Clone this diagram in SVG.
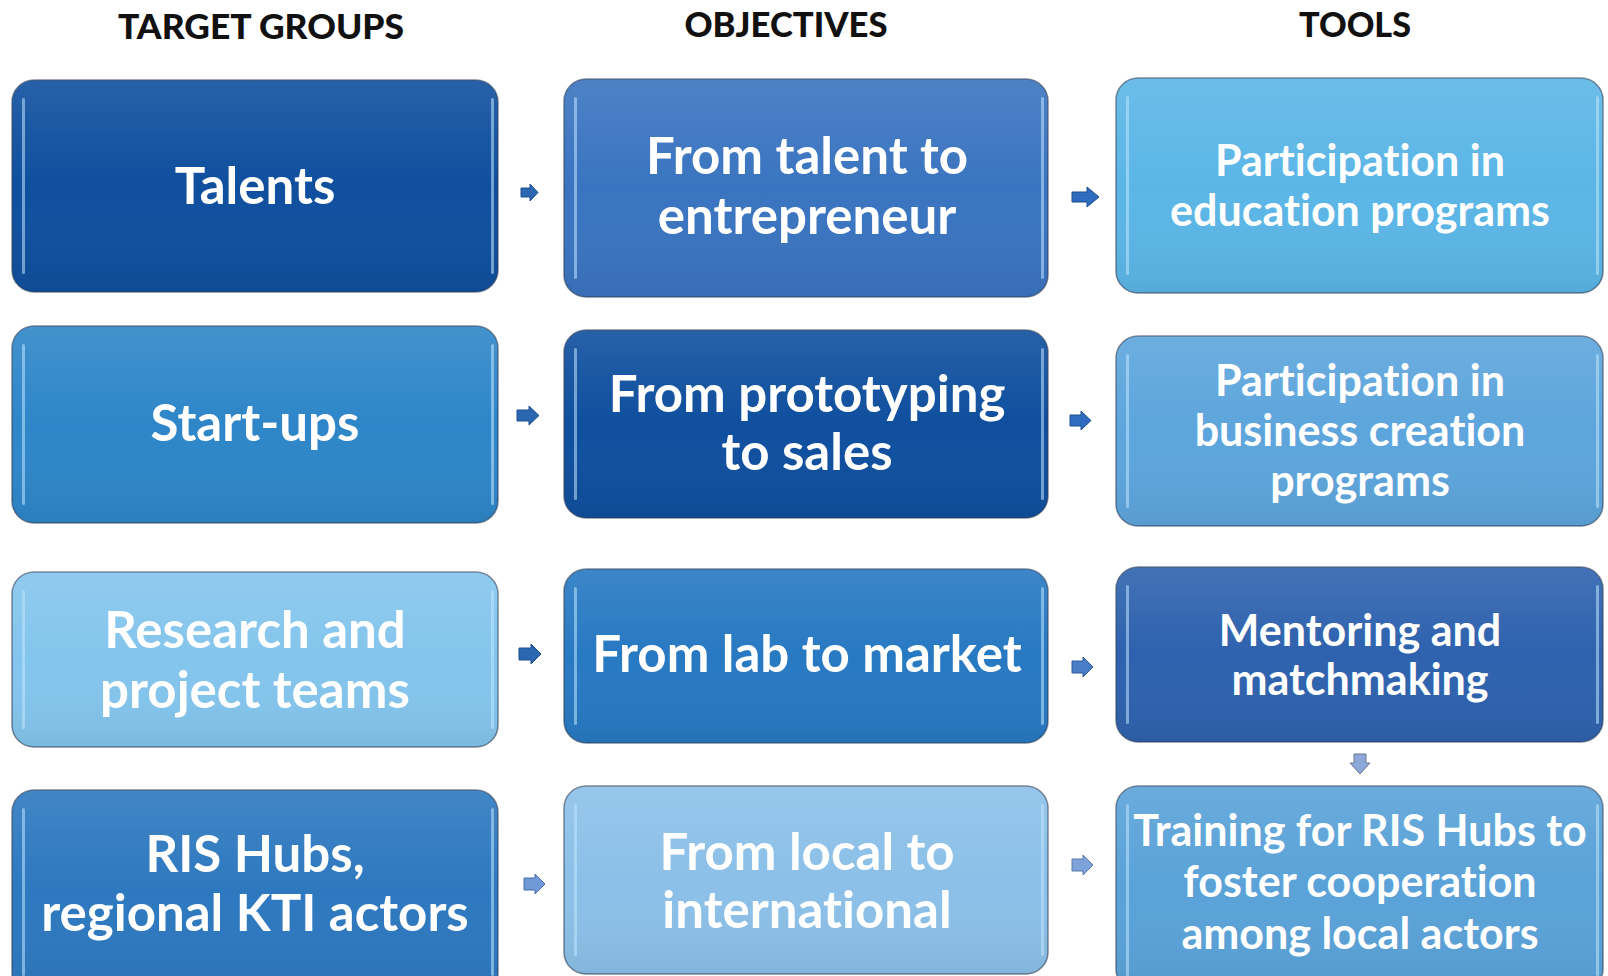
<svg xmlns="http://www.w3.org/2000/svg" width="1608" height="976" viewBox="0 0 1608 976">
<defs>
<linearGradient id="sheen" x1="0" y1="0" x2="0" y2="1">
<stop offset="0" stop-color="#ffffff" stop-opacity="0.10"/>
<stop offset="0.5" stop-color="#ffffff" stop-opacity="0"/>
<stop offset="1" stop-color="#000000" stop-opacity="0.06"/>
</linearGradient>
<style>
.box{stroke:#2f3f58;stroke-opacity:0.6;stroke-width:1.5}
.hl{fill:#bfe6ff;fill-opacity:0.55}
.t{font-family:Lato,"Open Sans","Liberation Sans",sans-serif;font-weight:bold;fill:#ffffff;text-anchor:middle;font-variant-ligatures:none;font-feature-settings:"liga" 0,"clig" 0,"dlig" 0;letter-spacing:0.01px}
.h{font-family:Lato,"Open Sans","Liberation Sans",sans-serif;font-weight:900;fill:#111111;text-anchor:middle;font-size:34px}
.ar{stroke-width:1}
</style>
</defs>
<rect width="1608" height="976" fill="#ffffff"/>

<g id="headers">
<text class="h" x="261" y="39" textLength="286" lengthAdjust="spacingAndGlyphs">TARGET GROUPS</text>
<text class="h" x="786" y="37" textLength="203" lengthAdjust="spacingAndGlyphs">OBJECTIVES</text>
<text class="h" x="1355" y="37" textLength="112" lengthAdjust="spacingAndGlyphs">TOOLS</text>
</g>

<g id="talents">
<rect class="box" x="12" y="80" width="486" height="212" rx="22" fill="#0f4f9e"/>
<rect x="12" y="80" width="486" height="212" rx="22" fill="url(#sheen)"/>
<rect class="hl" x="22" y="98" width="3" height="176" rx="1.5"/>
<rect class="hl" x="491" y="98" width="3" height="176" rx="1.5"/>
<text class="t" x="255" y="204" font-size="51">Talents</text>
</g>

<g id="obj-talent">
<rect class="box" x="564" y="79" width="484" height="218" rx="22" fill="#3a74c0"/>
<rect x="564" y="79" width="484" height="218" rx="22" fill="url(#sheen)"/>
<rect class="hl" x="574" y="97" width="3" height="182" rx="1.5"/>
<rect class="hl" x="1041" y="97" width="3" height="182" rx="1.5"/>
<text class="t" x="807" y="174" font-size="51">From talent to</text>
<text class="t" x="807" y="234" font-size="51">entrepreneur</text>
</g>

<g id="tool-education">
<rect class="box" x="1116" y="78" width="487" height="215" rx="22" fill="#5bb6e6"/>
<rect x="1116" y="78" width="487" height="215" rx="22" fill="url(#sheen)"/>
<rect class="hl" x="1126" y="96" width="3" height="179" rx="1.5"/>
<rect class="hl" x="1596" y="96" width="3" height="179" rx="1.5"/>
<text class="t" x="1360" y="176" font-size="43">Participation in</text>
<text class="t" x="1360" y="226" font-size="43">education programs</text>
</g>

<g id="startups">
<rect class="box" x="12" y="326" width="486" height="197" rx="22" fill="#2e86c8"/>
<rect x="12" y="326" width="486" height="197" rx="22" fill="url(#sheen)"/>
<rect class="hl" x="22" y="344" width="3" height="161" rx="1.5"/>
<rect class="hl" x="491" y="344" width="3" height="161" rx="1.5"/>
<text class="t" x="255" y="441" font-size="51">Start-ups</text>
</g>

<g id="obj-prototyping">
<rect class="box" x="564" y="330" width="484" height="188" rx="22" fill="#0f4f9e"/>
<rect x="564" y="330" width="484" height="188" rx="22" fill="url(#sheen)"/>
<rect class="hl" x="574" y="348" width="3" height="152" rx="1.5"/>
<rect class="hl" x="1041" y="348" width="3" height="152" rx="1.5"/>
<text class="t" x="807" y="412" font-size="51">From prototyping</text>
<text class="t" x="807" y="470" font-size="51">to sales</text>
</g>

<g id="tool-business">
<rect class="box" x="1116" y="336" width="487" height="190" rx="22" fill="#5da5dc"/>
<rect x="1116" y="336" width="487" height="190" rx="22" fill="url(#sheen)"/>
<rect class="hl" x="1126" y="354" width="3" height="154" rx="1.5"/>
<rect class="hl" x="1596" y="354" width="3" height="154" rx="1.5"/>
<text class="t" x="1360" y="396" font-size="43">Participation in</text>
<text class="t" x="1360" y="446" font-size="43">business creation</text>
<text class="t" x="1360" y="496" font-size="43">programs</text>
</g>

<g id="research">
<rect class="box" x="12" y="572" width="486" height="175" rx="22" fill="#84c5ed"/>
<rect x="12" y="572" width="486" height="175" rx="22" fill="url(#sheen)"/>
<rect class="hl" x="22" y="590" width="3" height="139" rx="1.5"/>
<rect class="hl" x="491" y="590" width="3" height="139" rx="1.5"/>
<text class="t" x="255" y="648" font-size="51">Research and</text>
<text class="t" x="255" y="708" font-size="51">project teams</text>
</g>

<g id="obj-lab">
<rect class="box" x="564" y="569" width="484" height="174" rx="22" fill="#2779c2"/>
<rect x="564" y="569" width="484" height="174" rx="22" fill="url(#sheen)"/>
<rect class="hl" x="574" y="587" width="3" height="138" rx="1.5"/>
<rect class="hl" x="1041" y="587" width="3" height="138" rx="1.5"/>
<text class="t" x="807" y="672" font-size="51">From lab to market</text>
</g>

<g id="tool-mentoring">
<rect class="box" x="1116" y="567" width="487" height="175" rx="22" fill="#2e62ae"/>
<rect x="1116" y="567" width="487" height="175" rx="22" fill="url(#sheen)"/>
<rect class="hl" x="1126" y="585" width="3" height="139" rx="1.5"/>
<rect class="hl" x="1596" y="585" width="3" height="139" rx="1.5"/>
<text class="t" x="1360" y="646" font-size="43">Mentoring and</text>
<text class="t" x="1360" y="695" font-size="43">matchmaking</text>
</g>

<g id="ris-hubs">
<rect class="box" x="12" y="790" width="486" height="205" rx="22" fill="#2d78bf"/>
<rect x="12" y="790" width="486" height="205" rx="22" fill="url(#sheen)"/>
<rect class="hl" x="22" y="808" width="3" height="168" rx="1.5"/>
<rect class="hl" x="491" y="808" width="3" height="168" rx="1.5"/>
<text class="t" x="255" y="872" font-size="51">RIS Hubs,</text>
<text class="t" x="255" y="931" font-size="51">regional KTI actors</text>
</g>

<g id="obj-local">
<rect class="box" x="564" y="786" width="484" height="188" rx="22" fill="#8cc0e8"/>
<rect x="564" y="786" width="484" height="188" rx="22" fill="url(#sheen)"/>
<rect class="hl" x="574" y="804" width="3" height="152" rx="1.5"/>
<rect class="hl" x="1041" y="804" width="3" height="152" rx="1.5"/>
<text class="t" x="807" y="870" font-size="51">From local to</text>
<text class="t" x="807" y="928" font-size="51">international</text>
</g>

<g id="tool-training">
<rect class="box" x="1116" y="786" width="487" height="205" rx="22" fill="#5aa2d8"/>
<rect x="1116" y="786" width="487" height="205" rx="22" fill="url(#sheen)"/>
<rect class="hl" x="1126" y="804" width="3" height="172" rx="1.5"/>
<rect class="hl" x="1596" y="804" width="3" height="172" rx="1.5"/>
<text class="t" x="1360" y="846" font-size="43">Training for RIS Hubs to</text>
<text class="t" x="1360" y="897" font-size="43">foster cooperation</text>
<text class="t" x="1360" y="949" font-size="43">among local actors</text>
</g>

<g id="connectors">
<path class="ar" d="M521,188 h9 v-4 l8,8.5 l-8,8.5 v-4 h-9 z" fill="#2b66b0" stroke="#1e4f8e"/>
<path class="ar" d="M1072,192 h15 v-5 l12,10 l-12,10 v-5 h-15 z" fill="#2f6cc0" stroke="#1e4f8e"/>
<path class="ar" d="M517,410 h12 v-4 l10,9.5 l-10,9.5 v-4 h-12 z" fill="#2b66b0" stroke="#1e4f8e"/>
<path class="ar" d="M1070,415 h11 v-4 l10,9.5 l-10,9.5 v-4 h-11 z" fill="#2f6cc0" stroke="#1e4f8e"/>
<path class="ar" d="M519,648 h12 v-4 l10,10 l-10,10 v-4 h-12 z" fill="#2b66b0" stroke="#1e4f8e"/>
<path class="ar" d="M1072,661 h11 v-4 l10,10 l-10,10 v-4 h-11 z" fill="#4a7fc8" stroke="#2e5a96"/>
<path class="ar" d="M524,878 h11 v-4 l10,10 l-10,10 v-4 h-11 z" fill="#6f98d6" stroke="#4b6fa6"/>
<path class="ar" d="M1072,859 h11 v-4 l10,10 l-10,10 v-4 h-11 z" fill="#7ea3da" stroke="#5a7aa8"/>
<path class="ar" d="M1354,754 h12 v9 h4 l-10,11 l-10,-11 h4 z" fill="#8ca8d8" stroke="#6c7a8c"/>
</g>
</svg>
